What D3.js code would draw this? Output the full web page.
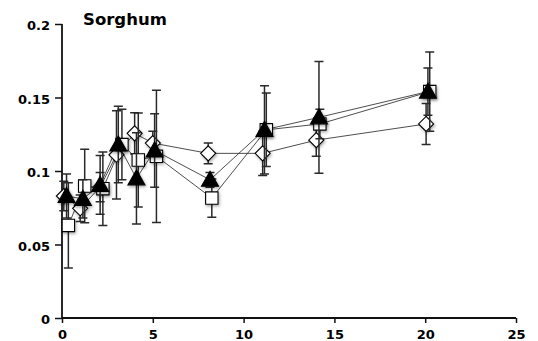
<!DOCTYPE html>
<html>
<head>
<meta charset="utf-8">
<script src="https://cdn.jsdelivr.net/npm/d3@7"></script>
<style>
  html, body { margin: 0; padding: 0; background: #fff; }
  svg { display: block; }
  text { font-family: "DejaVu Sans", sans-serif; font-weight: bold; fill: #000; }
</style>
</head>
<body>
<svg id="chart" width="538" height="341"></svg>
<script>
// Sampling times (days) per series; each series is nudged slightly so the markers stay readable
const diamondX  = [0.1, 1.0, 2.1, 3.0, 4.0, 5.0, 8.05, 11.05, 14.0, 20.05];
const triangleX = [0.25, 1.15, 2.1, 3.1, 4.1, 5.1, 8.15, 11.15, 14.15, 20.15];
const squareX   = [0.35, 1.25, 2.25, 3.3, 4.2, 5.2, 8.25, 11.25, 14.2, 20.25];

// Mean values and error half-widths
const diamondY   = [0.083, 0.0746, 0.089, 0.111, 0.1256, 0.119, 0.112, 0.112, 0.121, 0.132];
const diamondErr = [0.010, 0.009, 0.010, 0.030, 0.014, 0.008, 0.007, 0.015, 0.011, 0.014];

const triangleY   = [0.083, 0.081, 0.0905, 0.118, 0.095, 0.114, 0.094, 0.128, 0.1365, 0.154];
const triangleErr = [0.015, 0.013, 0.020, 0.026, 0.031, 0.025, 0.005, 0.030, 0.038, 0.016];

const squareY   = [0.063, 0.0898, 0.088, 0.118, 0.1075, 0.110, 0.0816, 0.128, 0.132, 0.154];
const squareErr = [0.029, 0.025, 0.025, 0.024, 0.032, 0.045, 0.013, 0.025, 0.010, 0.027];

const xTicks = [0, 5, 10, 15, 20, 25];
const yTicks = [0, 0.05, 0.1, 0.15, 0.2];
const yTickLabels = ["0", "0.05", "0.1", "0.15", "0.2"];
const title = "Sorghum";

const svg = d3.select("#chart");

const x = d3.scaleLinear().domain([0, 25]).range([62, 516]);
const y = d3.scaleLinear().domain([0, 0.2]).range([318, 24]);

// soft shadow under the markers
const defs = svg.append("defs");
const f = defs.append("filter").attr("id", "shade")
  .attr("x", "-50%").attr("y", "-50%").attr("width", "200%").attr("height", "200%");
f.append("feDropShadow").attr("dx", 1).attr("dy", 1.5)
  .attr("stdDeviation", 1.4).attr("flood-color", "#000").attr("flood-opacity", 0.35);

// Axes
const xAxis = d3.axisBottom(x).tickValues(xTicks).tickSize(5).tickPadding(6).tickFormat(d3.format("d"));
const yAxis = d3.axisLeft(y).tickValues(yTicks).tickSize(7).tickPadding(5)
  .tickFormat((d, i) => yTickLabels[i]);

const gx = svg.append("g").attr("transform", `translate(0,${y(0)})`).call(xAxis);
const gy = svg.append("g").attr("transform", `translate(${x(0)},0)`).call(yAxis);

[gx, gy].forEach(g => {
  g.select(".domain").attr("stroke", "#111").attr("stroke-width", 1.8);
  g.selectAll(".tick line").attr("stroke", "#111").attr("stroke-width", 1.5);
  g.selectAll(".tick text").attr("font-size", 13).attr("font-family", "DejaVu Sans")
    .attr("font-weight", "bold").attr("fill", "#000");
});
gx.select(".domain").attr("d", `M${x(0)},0H${x(25)}`);
gy.select(".domain").attr("d", `M0,${y(0)}V${y(0.2)}`);
gy.selectAll(".tick text").attr("dy", "0.45em");
gx.selectAll(".tick text").attr("y", 10).attr("dy", "0.85em");

svg.append("text").attr("x", 83).attr("y", 25).attr("font-size", 16.5).text(title);

// custom marker shapes
const triShape = { draw(ctx) { ctx.moveTo(0, -8.5); ctx.lineTo(8.5, 6.5); ctx.lineTo(-8.5, 6.5); ctx.closePath(); } };
const sqShape  = { draw(ctx) { ctx.rect(-6.2, -6.2, 12.4, 12.4); } };
const diaShape = { draw(ctx) { ctx.moveTo(0, -7.5); ctx.lineTo(7.5, 0); ctx.lineTo(0, 7.5); ctx.lineTo(-7.5, 0); ctx.closePath(); } };

const series = [
  { xs: diamondX,  ys: diamondY,  es: diamondErr,  shape: diaShape, fill: "#fff" },
  { xs: squareX,   ys: squareY,   es: squareErr,   shape: sqShape,  fill: "#fff" },
  { xs: triangleX, ys: triangleY, es: triangleErr, shape: triShape, fill: "#000" }
];

const line = d3.line().x(d => x(d[0])).y(d => y(d[1]));

// connecting lines
series.forEach(s => {
  svg.append("path")
    .datum(s.xs.map((v, i) => [v, s.ys[i]]))
    .attr("d", line)
    .attr("fill", "none").attr("stroke", "#3a3a3a").attr("stroke-width", 0.9);
});

// error bars and markers
series.forEach(s => {
  const pts = s.xs.map((v, i) => ({ x: v, y: s.ys[i], e: s.es[i] }));
  const eb = svg.append("g").attr("stroke", "#2a2a2a").attr("stroke-width", 1.5).attr("fill", "none");
  eb.selectAll("path").data(pts).join("path")
    .attr("d", d => {
      const cx = x(d.x), y1 = y(d.y + d.e), y2 = y(d.y - d.e);
      return `M${cx},${y1}V${y2}M${cx - 4.5},${y1}H${cx + 4.5}M${cx - 4.5},${y2}H${cx + 4.5}`;
    });
  svg.append("g").attr("filter", "url(#shade)")
    .selectAll("path").data(pts).join("path")
    .attr("transform", d => `translate(${x(d.x)},${y(d.y)})`)
    .attr("d", d3.symbol().type(s.shape))
    .attr("fill", s.fill).attr("stroke", "#000").attr("stroke-width", 1.1);
});
</script>
</body>
</html>
